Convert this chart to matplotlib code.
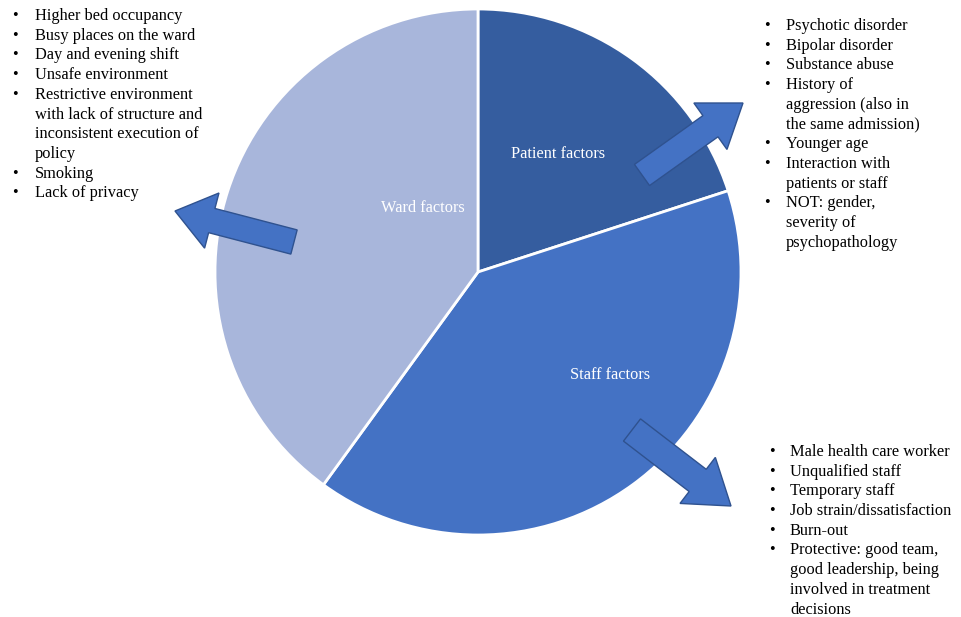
import matplotlib.pyplot as plt
from matplotlib.patches import FancyArrow

# ─── Datos ────────────────────────────────────────────────────────────────────

factores = ["Patient factors", "Staff factors", "Ward factors"]
porcentajes = [20, 40, 40]
colores = ["#355D9F", "#4472C4", "#A8B6DB"]

# listas con las líneas ya cortadas como en la figura original
lista_sala = [
    ["Higher bed occupancy"],
    ["Busy places on the ward"],
    ["Day and evening shift"],
    ["Unsafe environment"],
    ["Restrictive environment", "with lack of structure and",
     "inconsistent execution of", "policy"],
    ["Smoking"],
    ["Lack of privacy"],
]
lista_paciente = [
    ["Psychotic disorder"],
    ["Bipolar disorder"],
    ["Substance abuse"],
    ["History of", "aggression (also in", "the same admission)"],
    ["Younger age"],
    ["Interaction with", "patients or staff"],
    ["NOT: gender,", "severity of", "psychopathology"],
]
lista_personal = [
    ["Male health care worker"],
    ["Unqualified staff"],
    ["Temporary staff"],
    ["Job strain/dissatisfaction"],
    ["Burn-out"],
    ["Protective: good team,", "good leadership, being",
     "involved in treatment", "decisions"],
]

W, H = 962, 617
FUENTE = "Liberation Serif"
TAM = 11.8
PASO = 19.7  # separación entre líneas en píxeles


def Y(y):
    # convierte coordenada de imagen (y hacia abajo) a ejes (y hacia arriba)
    return H - y


def lista_vinetas(ax, items, x_vineta, x_texto, y0):
    y = y0
    for item in items:
        ax.text(x_vineta, Y(y), "•", fontsize=TAM, family=FUENTE,
                ha="center", va="center")
        for linea in item:
            ax.text(x_texto, Y(y), linea, fontsize=TAM, family=FUENTE,
                    ha="left", va="center")
            y += PASO


def flecha(ax, x0, y0, x1, y1, ancho, ancho_punta, largo_punta):
    ax.add_patch(FancyArrow(x0, Y(y0), x1 - x0, Y(y1) - Y(y0),
                            width=ancho, head_width=ancho_punta,
                            head_length=largo_punta, length_includes_head=True,
                            facecolor="#4472C4", edgecolor="#2F528F",
                            linewidth=1.0, zorder=5))


fig = plt.figure(figsize=(W / 100, H / 100), dpi=100)
ax = fig.add_axes([0, 0, 1, 1])
ax.set_xlim(0, W)
ax.set_ylim(0, H)
ax.set_aspect("equal")
ax.axis("off")

# ─── Gráfica circular ─────────────────────────────────────────────────────────

ax.pie(porcentajes, colors=colores, startangle=90, counterclock=False,
       center=(478, Y(272)), radius=263,
       wedgeprops=dict(edgecolor="white", linewidth=2))
ax.set_xlim(0, W)
ax.set_ylim(0, H)

posiciones = [(558, 154), (610, 375), (423, 208)]
for nombre, (px, py) in zip(factores, posiciones):
    ax.text(px, Y(py), nombre, color="white", fontsize=TAM, family=FUENTE,
            ha="center", va="center")

# ─── Flechas ──────────────────────────────────────────────────────────────────

flecha(ax, 294, 242, 175, 211, 25, 57, 38)
flecha(ax, 642, 175, 743, 103, 26, 57, 40)
flecha(ax, 632, 430, 731, 506, 28, 58, 42)

# ─── Listas ───────────────────────────────────────────────────────────────────

lista_vinetas(ax, lista_sala, 15, 35, 16)
lista_vinetas(ax, lista_paciente, 767, 786, 26)
lista_vinetas(ax, lista_personal, 772, 790, 452)

fig.savefig("out.png", dpi=100)
